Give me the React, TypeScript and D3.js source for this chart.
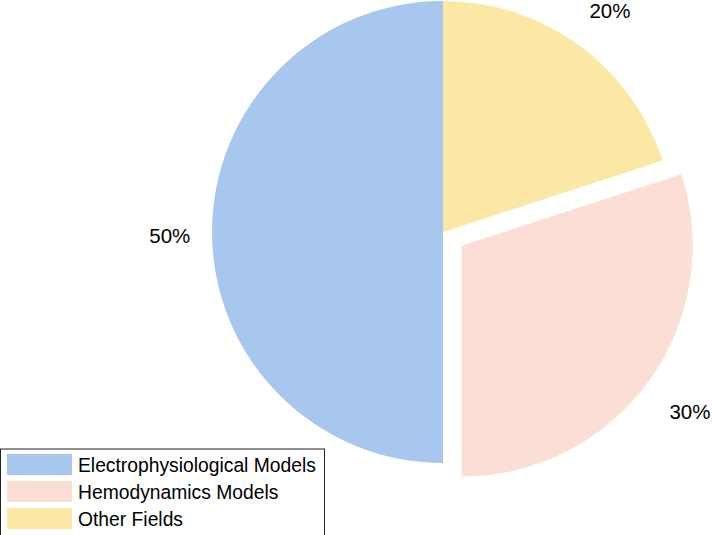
import React from "react";
import * as d3 from "d3";

const categories = ["Electrophysiological Models", "Hemodynamics Models", "Other Fields"];
const values = [50, 30, 20];
const colors = ["#A7C7EE", "#FBDFD6", "#FCE8A5"];
const explode = [0, 0.1, 0];
const labels = ["50%", "30%", "20%"];

const W = 712;
const H = 535;
const cx = 443;
const cy = 232;
const R = 231;

export default function App() {
  const pie = d3
    .pie<number>()
    .sort(null)
    .value((d) => d)
    .startAngle(0)
    .endAngle(-2 * Math.PI);
  const arcs = pie(values);
  const arc = d3.arc<d3.PieArcDatum<number>>().innerRadius(0).outerRadius(R);

  const font = "'Liberation Sans', Arial, Helvetica, sans-serif";

  return (
    <svg
      width={W}
      height={H}
      style={{ position: "absolute", left: 0, top: 0, background: "#fff" }}
    >
      <g transform={`translate(${cx},${cy})`}>
        {arcs.map((a, i) => {
          const mid = (a.startAngle + a.endAngle) / 2;
          const ox = Math.sin(mid) * explode[i] * R;
          const oy = -Math.cos(mid) * explode[i] * R;
          const lx = ox + Math.sin(mid) * 1.2 * R;
          const ly = oy - Math.cos(mid) * 1.2 * R;
          const sa = Math.min(a.startAngle, a.endAngle);
          const ea = Math.max(a.startAngle, a.endAngle);
          return (
            <g key={i}>
              <path
                d={arc({ ...a, startAngle: sa, endAngle: ea }) || ""}
                transform={`translate(${ox},${oy})`}
                fill={colors[i]}
              />
              <text
                x={lx}
                y={ly}
                dx={4}
                dy={3}
                textAnchor="middle"
                dominantBaseline="central"
                fontFamily={font}
                fontSize={20.5}
                fill="#000"
              >
                {labels[i]}
              </text>
            </g>
          );
        })}
      </g>
      <g>
        <rect x={0.5} y={449} width={324} height={90} fill="#fff" stroke="#222" strokeWidth={1} />
        {categories.map((c, i) => (
          <g key={c} transform={`translate(0,${454 + i * 27})`}>
            <rect x={7} y={0} width={65} height={21} fill={colors[i]} />
            <text
              x={78}
              y={11.5}
              dominantBaseline="central"
              fontFamily={font}
              fontSize={19.3}
              fill="#000"
            >
              {c}
            </text>
          </g>
        ))}
      </g>
    </svg>
  );
}
